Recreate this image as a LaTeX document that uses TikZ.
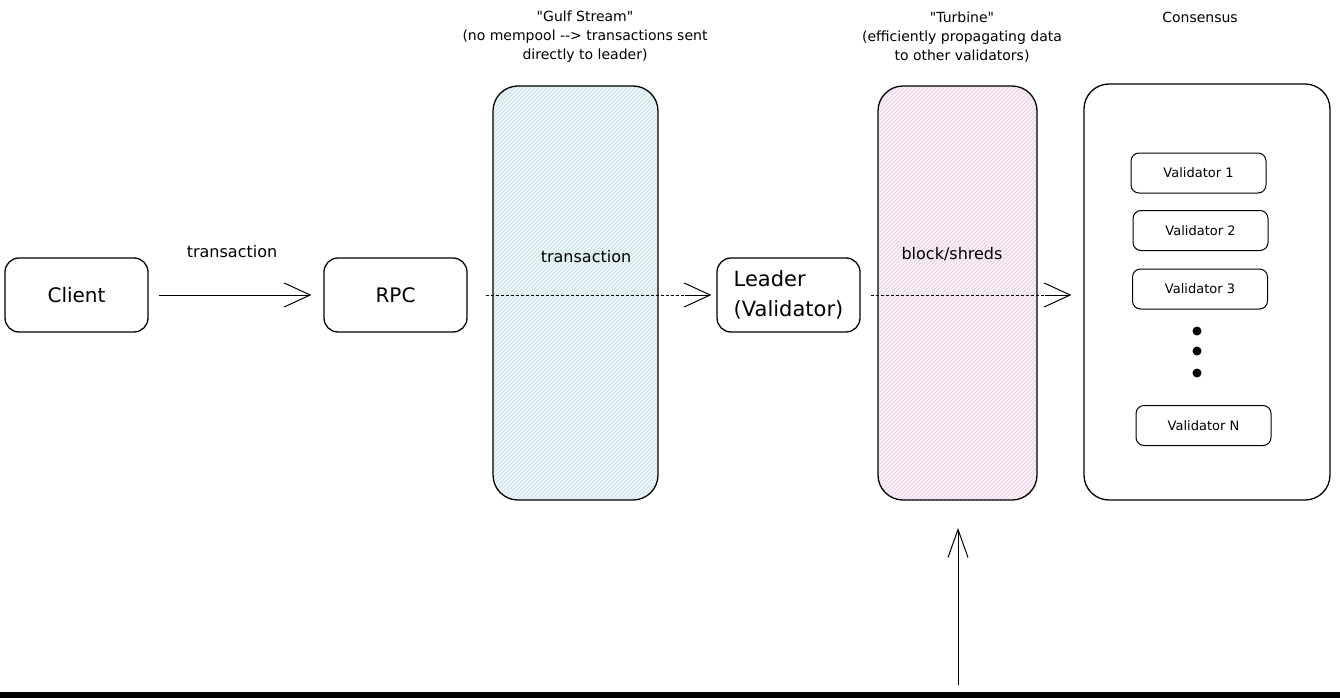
\documentclass[tikz,border=0pt]{standalone}
\usepackage{fontspec}
\setmainfont{DejaVu Sans}[Ligatures=TeXOff]
\usetikzlibrary{arrows.meta}
\definecolor{gulffill}{HTML}{EAF5F7}
\definecolor{gulfhatch}{HTML}{C4DDE3}
\definecolor{turbfill}{HTML}{F9EEF7}
\definecolor{turbhatch}{HTML}{E6CDE0}
\begin{document}
\begin{tikzpicture}[x=1pt,y=-1pt,
  box/.style={draw, line width=1.3pt, rounded corners=14pt, minimum width=143pt, minimum height=74pt, inner sep=0pt, font=\fontsize{20}{29}\selectfont},
  tall/.style={draw, line width=1.3pt, rounded corners=25pt, inner sep=0pt},
  vbox/.style={draw, line width=1pt, rounded corners=8pt, minimum width=135pt, minimum height=40pt, inner sep=0pt, font=\fontsize{13}{16}\selectfont},
  lbl/.style={font=\fontsize{16}{19}\selectfont, inner sep=0pt},
  head/.style={font=\fontsize{14}{19}\selectfont, align=center, inner sep=0pt},
  arr/.style={line width=1pt, -{Straight Barb[length=26pt,width=24pt,line width=1pt]}},
  dline/.style={line width=0.8pt, dash pattern=on 3pt off 2pt},
  hatchline/.style={line width=0.6pt}
]
\useasboundingbox (0,0) rectangle (1340,698);
\fill[black] (0,692) rectangle (1340,698);

% hatched fills
\begin{scope}
  \clip[rounded corners=25pt] (493,86) rectangle (658,500);
  \fill[gulffill] (493,86) rectangle (658,500);
  \foreach \a in {79,83,...,658} \draw[gulfhatch,hatchline] (\a,500) -- ++(414,-414);
\end{scope}
\begin{scope}
  \clip[rounded corners=25pt] (878,86) rectangle (1037,500);
  \fill[turbfill] (878,86) rectangle (1037,500);
  \foreach \a in {464,468,...,1037} \draw[turbhatch,hatchline] (\a,500) -- ++(414,-414);
\end{scope}

% nodes
\node[box] (client) at (76.5,295) {Client};
\node[box] (rpc) at (395.5,295) {RPC};
\node[box, align=left, font=\fontsize{21}{30}\selectfont] (leader) at (788.5,295) {Leader\\(Validator)};
\node[tall, minimum width=165pt, minimum height=414pt] (gulf) at (575.5,293) {};
\node[tall, minimum width=159pt, minimum height=414pt] (turbine) at (957.5,293) {};
\node[tall, minimum width=246pt, minimum height=416pt] (consensus) at (1207,292) {};

\node[vbox] (v1) at (1198.5,173) {Validator 1};
\node[vbox] (v2) at (1200.5,230.5) {Validator 2};
\node[vbox] (v3) at (1200,289) {Validator 3};
\node[vbox] (vn) at (1203.5,425.5) {Validator N};
\fill (1197,331) circle (4.5pt);
\fill (1197,351) circle (4.5pt);
\fill (1197,373) circle (4.5pt);

% labels
\node[lbl] (txlabel) at (232,252) {transaction};
\node[lbl] (gulflabel) at (586,257) {transaction};
\node[lbl] (turblabel) at (952,254) {block/shreds};
\node[head] (gulfhead) at (585,37) {"Gulf Stream"\\(no mempool -{}-> transactions sent\\directly to leader)};
\node[head] (turbhead) at (962,37) {"Turbine"\\(efficiently propagating data\\to other validators)};
\node[head] (conshead) at (1200,17) {Consensus};

% connectors
\draw[arr] ([xshift=10pt]client.east) -- ([xshift=-12pt]rpc.west);
\coordinate (d1s) at ([xshift=18pt]rpc.east);
\coordinate (d1e) at ([xshift=-5pt]leader.west);
\draw[dline] (d1s) -- ([xshift=-26pt]d1e);
\draw[arr] ([xshift=-26pt]d1e) -- (d1e);
\coordinate (d2s) at ([xshift=10pt]leader.east);
\coordinate (d2e) at ([xshift=-12pt]leader.east -| consensus.west);
\draw[dline] (d2s) -- ([xshift=-26pt]d2e);
\draw[arr] ([xshift=-26pt]d2e) -- (d2e);
\coordinate (upstart) at (958,685);
\coordinate (upend) at (958,528);
\draw[line width=1pt, -{Straight Barb[length=28pt,width=20pt,line width=1pt]}] (upstart) -- (upend);
\end{tikzpicture}
\end{document}
